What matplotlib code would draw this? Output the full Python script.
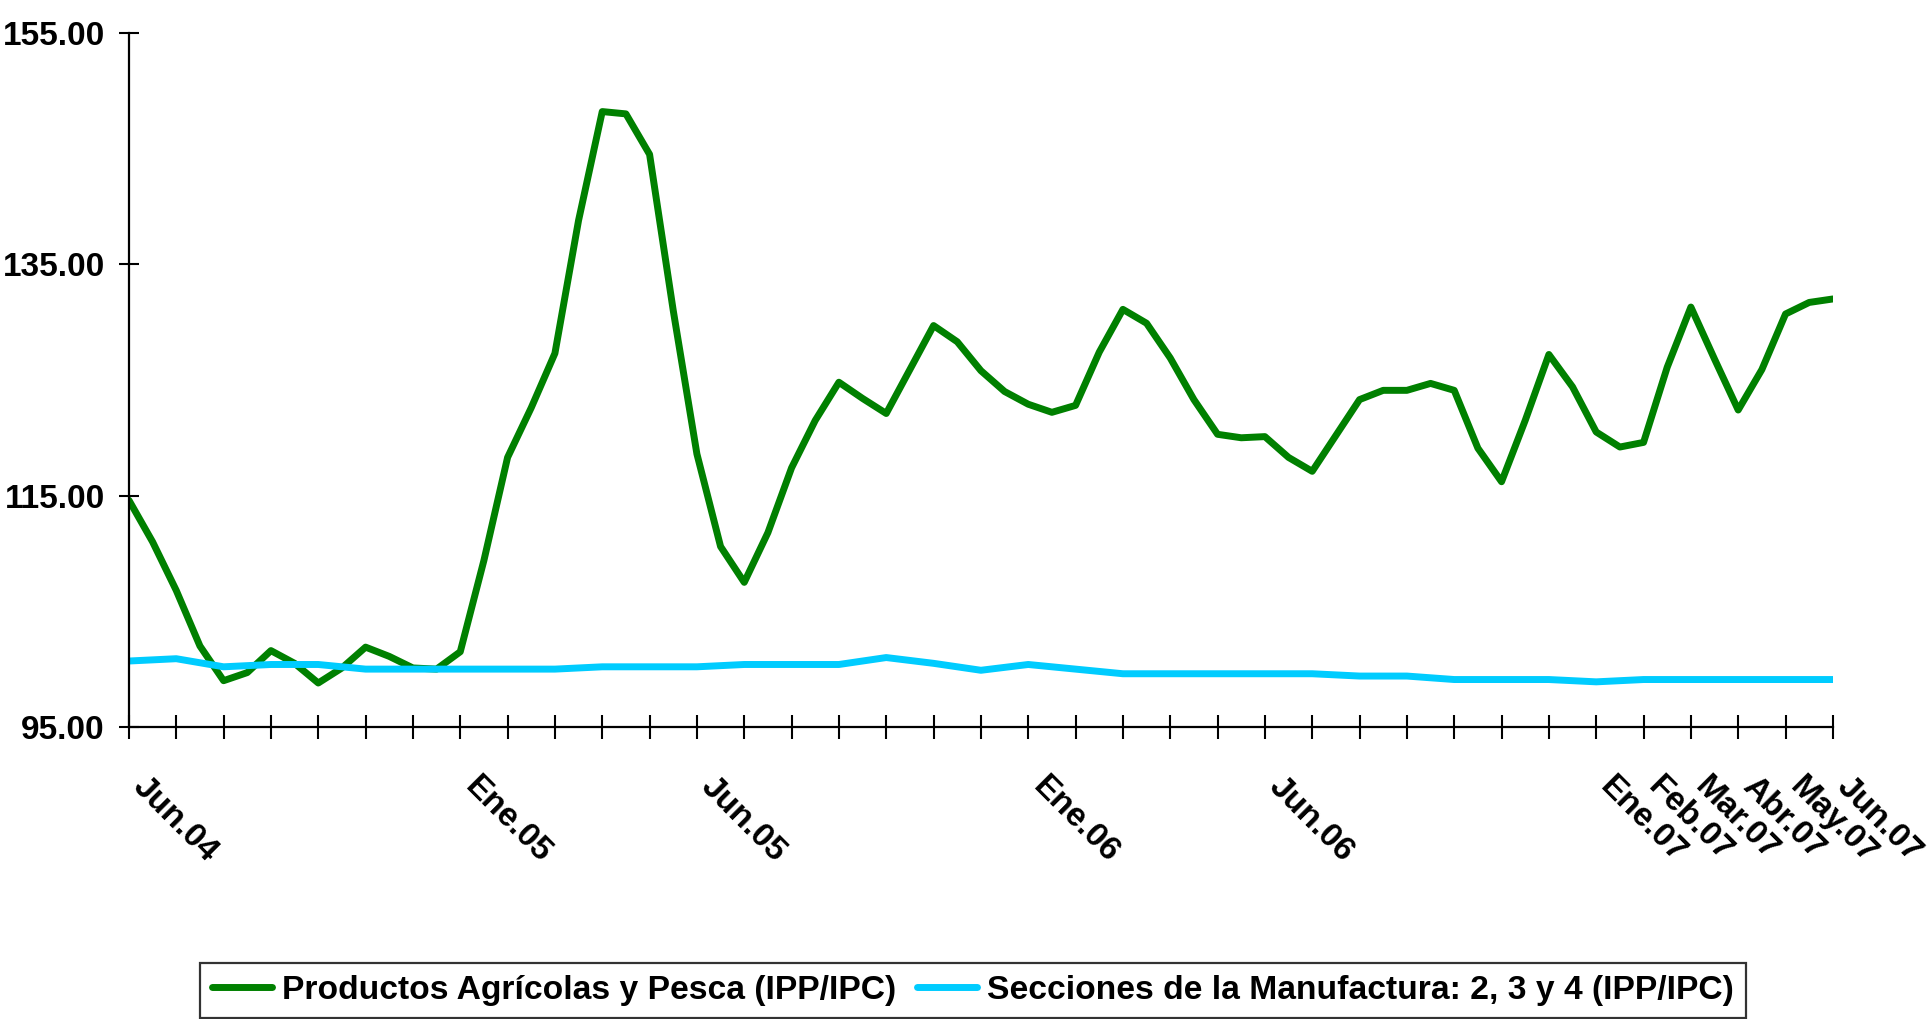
import matplotlib
matplotlib.use("Agg")
import matplotlib.pyplot as plt
from matplotlib.transforms import ScaledTranslation
import numpy as np

plt.rcParams["font.family"] = ["Liberation Sans", "DejaVu Sans"]
plt.rcParams["font.weight"] = "bold"

# meses desde Jun.04 (0) hasta Jun.07 (36)
green_x = np.arange(0, 36.01, 0.5)
green = [114.6, 111.0, 106.8, 102.0, 99.0, 99.7, 101.6, 100.5, 98.8, 100.1,
         101.9, 101.1, 100.1, 100.0, 101.5, 109.4, 118.3, 122.6, 127.3, 138.8,
         148.2, 148.0, 144.5, 131.0, 118.6, 110.6, 107.5, 111.8, 117.4, 121.5,
         124.8, 123.4, 122.1, 125.9, 129.7, 128.3, 125.8, 124.0, 122.9, 122.2,
         122.8, 127.4, 131.1, 129.9, 126.9, 123.3, 120.3, 120.0, 120.1, 118.3,
         117.1, 120.2, 123.3, 124.1, 124.1, 124.7, 124.1, 119.1, 116.2, 121.5,
         127.2, 124.4, 120.5, 119.2, 119.6, 126.1, 131.3, 126.8, 122.4, 125.9,
         130.7, 131.7, 132.0]

blue_x = np.arange(0, 37)
blue = [100.7, 100.9, 100.2, 100.4, 100.4, 100.0, 100.0, 100.0, 100.0, 100.0,
        100.2, 100.2, 100.2, 100.4, 100.4, 100.4, 101.0, 100.5, 99.9, 100.4,
        100.0, 99.6, 99.6, 99.6, 99.6, 99.6, 99.4, 99.4, 99.1, 99.1,
        99.1, 98.9, 99.1, 99.1, 99.1, 99.1, 99.1]

tick_pos = [0, 7, 12, 19, 24, 31, 32, 33, 34, 35, 36]
tick_lbl = ["Jun.04", "Ene.05", "Jun.05", "Ene.06", "Jun.06", "Ene.07",
            "Feb.07", "Mar.07", "Abr.07", "May.07", "Jun.07"]
y_ticks = [95, 115, 135, 155]

labels = ["Productos Agrícolas y Pesca (IPP/IPC)",
          "Secciones de la Manufactura: 2, 3 y 4 (IPP/IPC)"]

fig = plt.figure(figsize=(19.33, 10.19), dpi=100)
ax = fig.add_axes([0.0667, 0.2866, 0.8815, 0.6811])

ax.plot(green_x, green, color="#008000", lw=5, label=labels[0],
        solid_joinstyle="round", solid_capstyle="round")
ax.plot(blue_x, blue, color="#00CCFF", lw=5, label=labels[1],
        solid_joinstyle="round", solid_capstyle="round")

ax.set_xlim(0, 36)
ax.set_ylim(95, 155)
for s in ["top", "right"]:
    ax.spines[s].set_visible(False)
for s in ["left", "bottom"]:
    ax.spines[s].set_linewidth(1.6)
    ax.spines[s].set_color("black")

ax.set_yticks(y_ticks)
ax.set_yticklabels([f"{v:.2f}" for v in y_ticks])
ax.tick_params(axis="y", direction="inout", length=15, width=1.5,
               labelsize=24, pad=10)

ax.set_xticks(np.arange(0, 37), minor=True)
ax.set_xticks(tick_pos)
ax.set_xticklabels(tick_lbl, rotation=-45, ha="left", va="top",
                   rotation_mode="anchor")
ax.tick_params(axis="x", which="both", direction="inout", length=17,
               width=1.5, labelsize=24, pad=23)
off = ScaledTranslation(0.2, 0, fig.dpi_scale_trans)
for t in ax.get_xticklabels():
    t.set_transform(t.get_transform() + off)
for t in ax.get_xticklabels() + ax.get_yticklabels():
    t.set_fontweight("bold")

leg = fig.legend(loc="upper left", bbox_to_anchor=(200 / 1933, 1 - 963 / 1019),
                 ncol=2, fontsize=24.2, frameon=True, fancybox=False,
                 edgecolor="black", handlelength=1.8, handletextpad=0.3,
                 columnspacing=0.6, borderpad=0.35, borderaxespad=0)
leg.get_frame().set_linewidth(1.6)
for t in leg.get_texts():
    t.set_fontweight("bold")

fig.savefig("out.png", dpi=100)
